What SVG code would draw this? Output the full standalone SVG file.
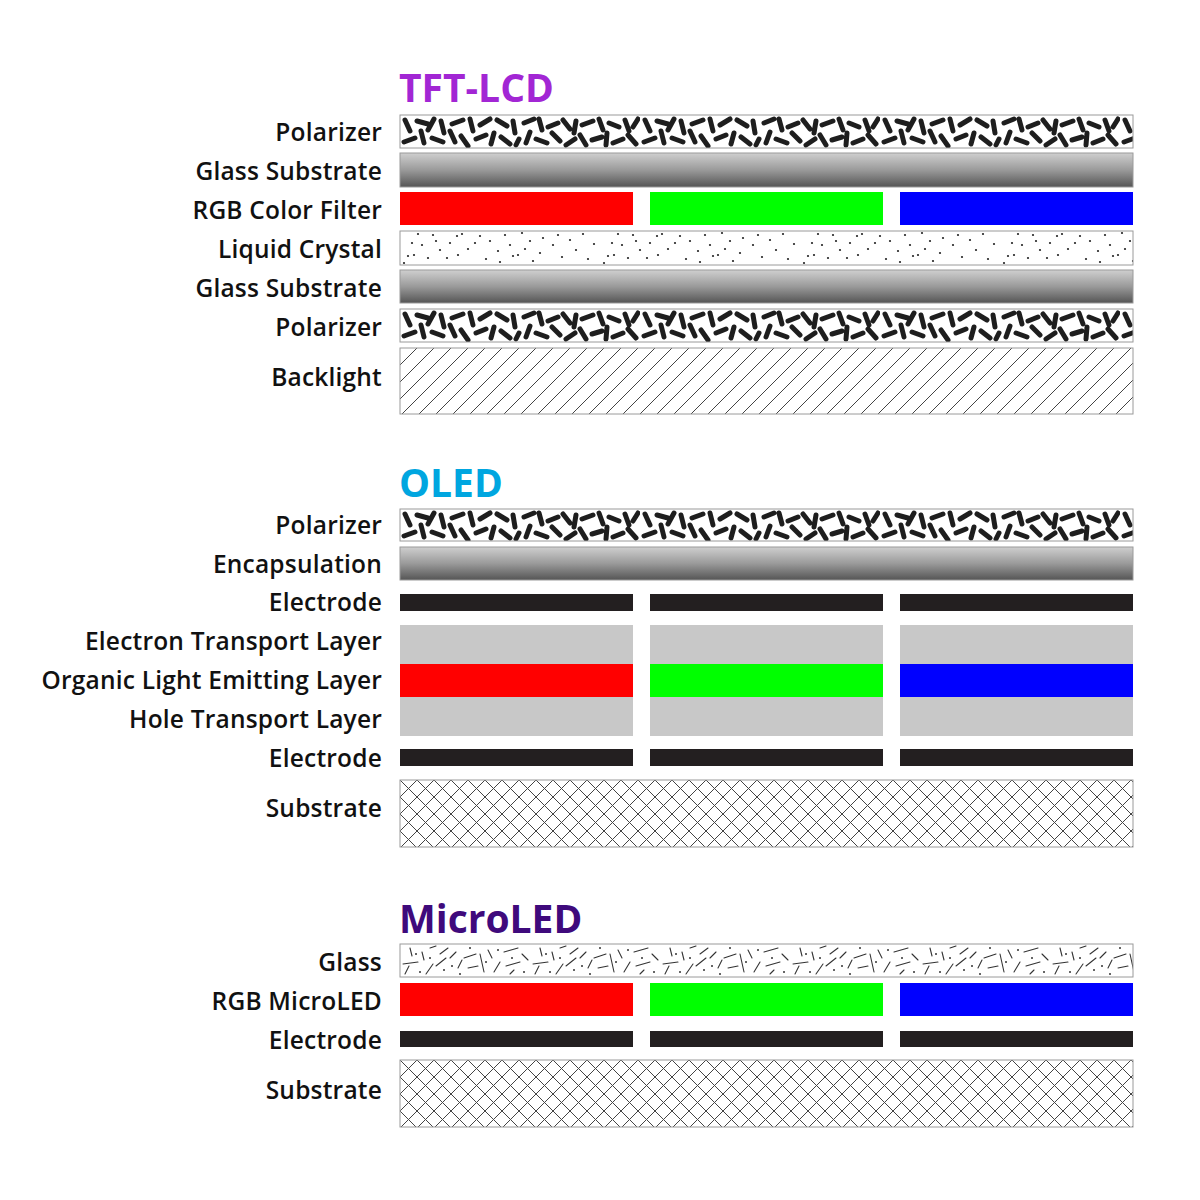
<svg xmlns="http://www.w3.org/2000/svg" width="1200" height="1200" viewBox="0 0 1200 1200">
<style>
.lbl{font-family:"Open Sans","Liberation Sans",sans-serif;font-size:24.5px;font-weight:600;letter-spacing:0.2px;fill:#111;text-anchor:end}
.ttl{font-family:"Open Sans","Liberation Sans",sans-serif;font-size:39px;font-weight:700}
.frame{stroke:#9a9a9a;stroke-width:1}
.r{fill:#ff0000}.g{fill:#00ff00}.b{fill:#0000ff}
.el{fill:#231f20}
.gr{fill:#c8c8c8}
</style>
<defs>
<linearGradient id="glass" x1="0" y1="0" x2="0" y2="1">
<stop offset="0" stop-color="#cfcfcf"/>
<stop offset="0.5" stop-color="#9a9a9a"/>
<stop offset="1" stop-color="#555"/>
</linearGradient>
<pattern id="pol" patternUnits="userSpaceOnUse" width="240" height="34">
<rect width="240" height="34" fill="#fff"/>
<g stroke="#1e1e1e" stroke-width="5" stroke-linecap="round" fill="none">
<path d="M5 5L10 16M17 6L28 9M34 4L28 15M41 6L44 18M52 9L63 5M70 4L73 16M80 10L90 4M97 5L107 11M113 6L115 18M4 27L15 23M21 16L24 28M32 23L43 27M50 16L55 27M61 21L68 31M76 24L86 20M94 18L91 29M101 22L110 29M116 30L119 24"/>
<path d="M124 8L134 4M139 4L142 15M148 12L158 8M163 5L170 14M176 6L174 18M182 10L193 6M199 4L203 15M209 8L219 12M225 5L229 16M233 12L238 4M126 28L130 17M136 24L147 28M152 18L160 26M166 30L175 24M180 20L186 30M192 25L202 22M207 18L206 30M213 28L223 24M228 20L236 29"/>
</g>
</pattern>
<pattern id="lc" patternUnits="userSpaceOnUse" width="200" height="34">
<rect width="200" height="34" fill="#fff"/>
<g fill="#222">
<circle cx="18" cy="3" r="1.1"/><circle cx="33" cy="4" r="1.1"/><circle cx="12" cy="12" r="1.1"/><circle cx="22" cy="14" r="1.1"/><circle cx="8" cy="25" r="1.1"/><circle cx="14" cy="24" r="1.1"/><circle cx="28" cy="27" r="1.1"/><circle cx="40" cy="19" r="1.1"/><circle cx="50" cy="12" r="1.1"/><circle cx="57" cy="5" r="1.1"/><circle cx="62" cy="3" r="1.1"/><circle cx="68" cy="18" r="1.1"/><circle cx="47" cy="27" r="1.1"/><circle cx="58" cy="24" r="1.1"/><circle cx="80" cy="5" r="1.1"/><circle cx="75" cy="12" r="1.1"/><circle cx="86" cy="28" r="1.1"/><circle cx="90" cy="10" r="1.1"/><circle cx="98" cy="20" r="1.1"/><circle cx="105" cy="4" r="1.1"/><circle cx="110" cy="14" r="1.1"/><circle cx="113" cy="25" r="1.1"/><circle cx="122" cy="2" r="1.1"/><circle cx="125" cy="18" r="1.1"/><circle cx="130" cy="10" r="1.1"/><circle cx="133" cy="30" r="1.1"/><circle cx="143" cy="7" r="1.1"/><circle cx="140" cy="22" r="1.1"/><circle cx="153" cy="14" r="1.1"/><circle cx="158" cy="4" r="1.1"/><circle cx="162" cy="26" r="1.1"/><circle cx="170" cy="9" r="1.1"/><circle cx="176" cy="19" r="1.1"/><circle cx="183" cy="3" r="1.1"/><circle cx="188" cy="28" r="1.1"/><circle cx="194" cy="13" r="1.1"/><circle cx="4" cy="32" r="1.1"/><circle cx="100" cy="31" r="1.1"/><circle cx="36" cy="10" r="1.1"/><circle cx="118" cy="24" r="1.1"/>
</g>
</pattern>
<pattern id="diag" patternUnits="userSpaceOnUse" width="17" height="17">
<rect width="17" height="17" fill="#fff"/>
<path d="M-1 18L18 -1M-4 4L4 -4M13 21L21 13" stroke="#444" stroke-width="1" fill="none"/>
</pattern>
<pattern id="cross" patternUnits="userSpaceOnUse" width="17" height="17">
<rect width="17" height="17" fill="#fff"/>
<path d="M0 0L17 17M17 0L0 17" stroke="#444" stroke-width="1" fill="none"/>
</pattern>
<pattern id="mglass" patternUnits="userSpaceOnUse" width="130" height="33">
<rect width="130" height="33" fill="#fff"/>
<g stroke="#333" stroke-width="1.1" fill="none" stroke-linecap="round">
<path d="M3 20L18 18M5 30L9 22M10 4L12 12M22 8L24 16M26 30L33 20M36 22L46 14M40 10L48 4M50 14L56 8M58 24L62 16M64 14L76 10M68 24L78 22M80 10L84 28M88 6L92 14M94 28L100 18M104 8L118 4M106 22L120 18M110 30L114 26M122 10L128 16M30 4L36 2"/>
</g>
<g fill="#333">
<circle cx="16" cy="10" r="1"/><circle cx="30" cy="14" r="1"/><circle cx="44" cy="26" r="1"/><circle cx="52" cy="22" r="1"/><circle cx="70" cy="4" r="1"/><circle cx="86" cy="18" r="1"/><circle cx="98" cy="6" r="1"/><circle cx="112" cy="14" r="1"/><circle cx="124" cy="28" r="1"/><circle cx="20" cy="28" r="1"/><circle cx="60" cy="30" r="1"/>
</g>
</pattern>
</defs>

<g id="tft-lcd">
<text class="ttl" x="399" y="102" fill="#a226d4">TFT-LCD</text>
<g id="tft-polarizer-top">
<text class="lbl" x="382" y="141">Polarizer</text>
<g transform="translate(400,115)"><rect class="frame" width="733" height="33" fill="url(#pol)"/></g>
</g>
<g id="tft-glass-top">
<text class="lbl" x="382" y="180">Glass Substrate</text>
<rect class="frame" x="400" y="153" width="733" height="34" fill="url(#glass)"/>
</g>
<g id="tft-rgb">
<text class="lbl" x="382" y="219">RGB Color Filter</text>
<rect class="r" x="400" y="192" width="233" height="33"/>
<rect class="g" x="650" y="192" width="233" height="33"/>
<rect class="b" x="900" y="192" width="233" height="33"/>
</g>
<g id="tft-lc">
<text class="lbl" x="382" y="258">Liquid Crystal</text>
<g transform="translate(400,231)"><rect class="frame" width="733" height="34" fill="url(#lc)"/></g>
</g>
<g id="tft-glass-bottom">
<text class="lbl" x="382" y="297">Glass Substrate</text>
<rect class="frame" x="400" y="270" width="733" height="33" fill="url(#glass)"/>
</g>
<g id="tft-polarizer-bottom">
<text class="lbl" x="382" y="336">Polarizer</text>
<g transform="translate(400,309)"><rect class="frame" width="733" height="33" fill="url(#pol)"/></g>
</g>
<g id="tft-backlight">
<text class="lbl" x="382" y="386">Backlight</text>
<g transform="translate(400,348)"><rect class="frame" width="733" height="66" fill="url(#diag)"/></g>
</g>
</g>

<g id="oled">
<text class="ttl" x="399" y="497" fill="#00a6e0">OLED</text>
<g id="oled-polarizer">
<text class="lbl" x="382" y="534">Polarizer</text>
<g transform="translate(400,509)"><rect class="frame" width="733" height="32" fill="url(#pol)"/></g>
</g>
<g id="oled-encap">
<text class="lbl" x="382" y="573">Encapsulation</text>
<rect class="frame" x="400" y="547" width="733" height="33" fill="url(#glass)"/>
</g>
<g id="oled-electrode-top">
<text class="lbl" x="382" y="611">Electrode</text>
<rect class="el" x="400" y="594" width="233" height="17"/>
<rect class="el" x="650" y="594" width="233" height="17"/>
<rect class="el" x="900" y="594" width="233" height="17"/>
</g>
<g id="oled-etl">
<text class="lbl" x="382" y="650">Electron Transport Layer</text>
<rect class="gr" x="400" y="625" width="233" height="39"/>
<rect class="gr" x="650" y="625" width="233" height="39"/>
<rect class="gr" x="900" y="625" width="233" height="39"/>
</g>
<g id="oled-oel">
<text class="lbl" x="382" y="689">Organic Light Emitting Layer</text>
<rect class="r" x="400" y="664" width="233" height="33"/>
<rect class="g" x="650" y="664" width="233" height="33"/>
<rect class="b" x="900" y="664" width="233" height="33"/>
</g>
<g id="oled-htl">
<text class="lbl" x="382" y="728">Hole Transport Layer</text>
<rect class="gr" x="400" y="697" width="233" height="39"/>
<rect class="gr" x="650" y="697" width="233" height="39"/>
<rect class="gr" x="900" y="697" width="233" height="39"/>
</g>
<g id="oled-electrode-bottom">
<text class="lbl" x="382" y="767">Electrode</text>
<rect class="el" x="400" y="749" width="233" height="17"/>
<rect class="el" x="650" y="749" width="233" height="17"/>
<rect class="el" x="900" y="749" width="233" height="17"/>
</g>
<g id="oled-substrate">
<text class="lbl" x="382" y="817">Substrate</text>
<g transform="translate(400,780)"><rect class="frame" width="733" height="67" fill="url(#cross)"/></g>
</g>
</g>

<g id="microled">
<text class="ttl" x="399" y="933" fill="#3f0a7c">MicroLED</text>
<g id="micro-glass">
<text class="lbl" x="382" y="971">Glass</text>
<g transform="translate(400,944)"><rect class="frame" width="733" height="33" fill="url(#mglass)"/></g>
</g>
<g id="micro-rgb">
<text class="lbl" x="382" y="1010">RGB MicroLED</text>
<rect class="r" x="400" y="983" width="233" height="33"/>
<rect class="g" x="650" y="983" width="233" height="33"/>
<rect class="b" x="900" y="983" width="233" height="33"/>
</g>
<g id="micro-electrode">
<text class="lbl" x="382" y="1049">Electrode</text>
<rect class="el" x="400" y="1031" width="233" height="16"/>
<rect class="el" x="650" y="1031" width="233" height="16"/>
<rect class="el" x="900" y="1031" width="233" height="16"/>
</g>
<g id="micro-substrate">
<text class="lbl" x="382" y="1099">Substrate</text>
<g transform="translate(400,1060)"><rect class="frame" width="733" height="67" fill="url(#cross)"/></g>
</g>
</g>
<g id="connectors"/>
</svg>
